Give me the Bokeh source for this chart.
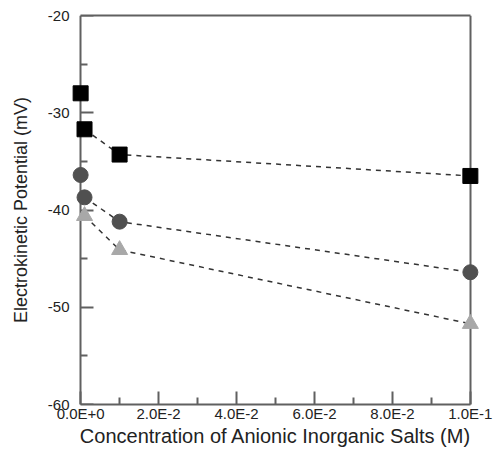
from bokeh.plotting import figure
from bokeh.models import FixedTicker, CustomJSTickFormatter, Range1d, LinearAxis
from bokeh.embed import file_html
from bokeh.resources import INLINE

# data
sq_x = [0.0, 0.001, 0.01, 0.1]
sq_y = [-28.0, -31.7, -34.3, -36.5]
ci_x = [0.0, 0.001, 0.01, 0.1]
ci_y = [-36.4, -38.7, -41.2, -46.4]
tr_x = [0.001, 0.01, 0.1]
tr_y = [-40.6, -44.1, -51.7]

x_ticks = [0.0, 0.02, 0.04, 0.06, 0.08, 0.1]
x_minor = [0.01, 0.03, 0.05, 0.07, 0.09]
y_ticks = [-60, -50, -40, -30, -20]
y_minor = [-55, -45, -35, -25]

FONT = "Liberation Sans"
AX = "#606060"
TXT = "#222222"

p = figure(width=499, height=450, output_backend="svg", toolbar_location=None,
           x_range=Range1d(-0.0026, 0.1026), y_range=Range1d(-60, -20),
           x_axis_location=None, y_axis_location=None,
           min_border_left=70, min_border_right=19, min_border_top=15, min_border_bottom=46)
p.grid.visible = False
p.outline_line_color = None
p.background_fill_color = "white"
p.border_fill_color = "white"


def style(ax):
    ax.axis_line_color = AX
    ax.axis_line_width = 2
    ax.major_tick_in = 13
    ax.major_tick_out = 0
    ax.minor_tick_in = 7
    ax.minor_tick_out = 0
    ax.major_tick_line_color = AX
    ax.minor_tick_line_color = AX
    ax.major_tick_line_width = 2
    ax.minor_tick_line_width = 2
    ax.major_label_text_font = FONT
    ax.major_label_text_color = TXT
    ax.axis_label_text_font = FONT
    ax.axis_label_text_font_style = "normal"
    ax.axis_label_text_color = TXT


xax = LinearAxis(bounds=(0, 0.1))
style(xax)
xax.ticker = FixedTicker(ticks=x_ticks, minor_ticks=x_minor)
xax.formatter = CustomJSTickFormatter(code="return tick.toExponential(1).replace('e','E');")
xax.axis_label = "Concentration of Anionic Inorganic Salts (M)"
xax.major_label_text_font_size = "15px"
xax.axis_label_text_font_size = "20px"
xax.major_label_standoff = 0
xax.axis_label_standoff = 0
p.add_layout(xax, "below")

# y labels and title (at the frame edge)
ylab = LinearAxis()
style(ylab)
ylab.axis_line_color = None
ylab.major_tick_in = 0
ylab.minor_tick_in = 0
ylab.ticker = FixedTicker(ticks=y_ticks, minor_ticks=[])
ylab.formatter = CustomJSTickFormatter(code="return String(tick);")
ylab.axis_label = "Electrokinetic Potential (mV)"
ylab.major_label_text_font_size = "15px"
ylab.axis_label_text_font_size = "18px"
ylab.major_label_standoff = 1
ylab.axis_label_standoff = 14
p.add_layout(ylab, "left")

# y axis line and ticks at x = 0
yax = LinearAxis(bounds=(-60, -20), fixed_location=0, level="underlay")
style(yax)
yax.ticker = FixedTicker(ticks=y_ticks, minor_ticks=y_minor)
yax.formatter = CustomJSTickFormatter(code="return '';")
yax.major_label_standoff = 0
p.add_layout(yax, "left")

tax = LinearAxis(bounds=(0, 0.1), ticker=FixedTicker(ticks=[]))
style(tax)
p.add_layout(tax, "above")

rax = LinearAxis(bounds=(-60, -20), fixed_location=0.1, ticker=FixedTicker(ticks=[]), level="underlay")
style(rax)
p.add_layout(rax, "right")

dash = "5 5"
lc = "#333333"
p.line(sq_x[1:], sq_y[1:], line_dash=dash, line_color=lc, line_width=1.5)
p.line(ci_x[1:], ci_y[1:], line_dash=dash, line_color=lc, line_width=1.5)
p.line(tr_x, tr_y, line_dash=dash, line_color=lc, line_width=1.5)

p.scatter(sq_x, sq_y, marker="square", size=15, fill_color="black", line_color="black")
p.scatter(ci_x, ci_y, marker="circle", size=15, fill_color="#505050", line_color="#505050")
p.scatter(tr_x, tr_y, marker="triangle", size=16, fill_color="#a8a8a8", line_color="#a8a8a8")

open("out.html", "w").write(file_html(p, INLINE))
